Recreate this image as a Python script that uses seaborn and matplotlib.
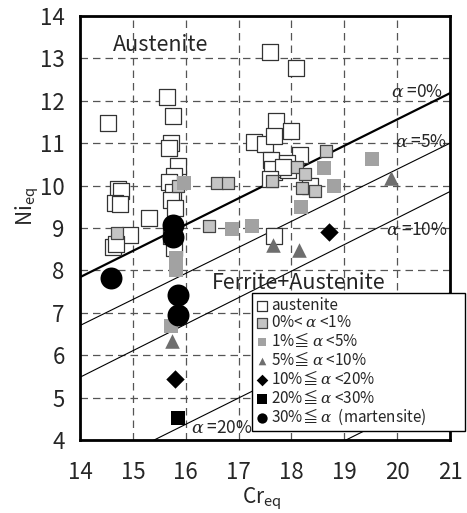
import matplotlib
matplotlib.use("Agg")
import matplotlib.pyplot as plt
import pandas as pd
import seaborn as sns

# ---- measured compositions (Cr equivalent, Ni equivalent) ----
aus_cr = [14.53, 15.64, 15.76, 15.72, 15.68, 15.85, 15.78, 15.68, 15.76, 15.73,
          15.80, 15.72, 15.78, 14.72, 14.78, 14.66, 14.75, 14.95, 14.62, 14.68,
          15.30, 17.60, 18.08, 17.30, 17.50, 17.70, 17.99, 17.67, 18.16, 17.61,
          17.91, 17.67, 17.93, 17.63, 17.85, 18.35, 17.60, 17.67]
aus_ni = [11.47, 12.08, 11.64, 11.00, 10.89, 10.46, 10.23, 10.09, 9.85, 9.66,
          9.47, 8.80, 8.53, 9.92, 9.88, 9.59, 9.56, 8.83, 8.55, 8.62,
          9.24, 13.15, 12.77, 11.03, 10.97, 11.52, 11.29, 11.17, 10.72, 10.60,
          10.53, 10.32, 10.37, 10.39, 10.45, 10.00, 10.15, 8.81]

f01_cr = [15.85, 14.70, 16.44, 16.59, 16.80, 17.63, 18.10, 18.25, 18.20, 18.44, 18.65]
f01_ni = [10.00, 8.88, 9.05, 10.05, 10.05, 10.10, 10.44, 10.27, 9.94, 9.87, 10.82]

f15_cr = [15.97, 15.81, 15.81, 15.72, 16.87, 17.25, 18.61, 18.80, 18.18, 19.52]
f15_ni = [10.06, 8.29, 8.00, 6.70, 8.97, 9.05, 10.42, 9.99, 9.50, 10.62]

f510_cr = [15.74, 17.65, 18.14, 19.88]
f510_ni = [6.33, 8.60, 8.48, 10.18]

f1020_cr = [15.80, 18.71]
f1020_ni = [5.44, 8.90]

f2030_cr = [15.85]
f2030_ni = [4.52]

mart_cr = [14.59, 15.76, 15.76, 15.85, 15.85]
mart_ni = [7.82, 9.07, 8.79, 7.42, 6.95]

phase_labels = [
    "austenite",
    "0%< $\\alpha$ <1%",
    "1%≦ $\\alpha$ <5%",
    "5%≦ $\\alpha$ <10%",
    "10%≦ $\\alpha$ <20%",
    "20%≦ $\\alpha$ <30%",
    "30%≦ $\\alpha$  (martensite)",
]

# iso-ferrite boundary lines, Ni_eq at Cr_eq = 14 and Cr_eq = 21
bound_cr = [14, 21]
bound_ni_left = [7.84, 6.70, 5.48, 3.13, 0.88]
bound_ni_right = [12.18, 11.00, 9.86, 7.47, 5.22]
bound_width = [1.6, 0.8, 0.8, 0.8, 0.8]
bound_text = ["$\\alpha$ =0%", "$\\alpha$ =5%", "$\\alpha$ =10%", "$\\alpha$ =20%"]
bound_text_cr = [20.37, 20.46, 20.37, 16.68]
bound_text_ni = [12.20, 11.03, 8.95, 4.28]

x_ticks = [14, 15, 16, 17, 18, 19, 20, 21]
y_ticks = [4, 5, 6, 7, 8, 9, 10, 11, 12, 13, 14]

# ---- assemble a long table ----
groups = [(aus_cr, aus_ni), (f01_cr, f01_ni), (f15_cr, f15_ni), (f510_cr, f510_ni),
          (f1020_cr, f1020_ni), (f2030_cr, f2030_ni), (mart_cr, mart_ni)]
rows = []
for lab, (cr, ni) in zip(phase_labels, groups):
    for c, n in zip(cr, ni):
        rows.append({"Cr": c, "Ni": n, "phase": lab})
df = pd.DataFrame(rows)

# marker, face, edge, edge width, plot size, legend size
styles = {
    phase_labels[0]: ("s", "white", "#333333", 0.9, 118, 55),
    phase_labels[1]: ("s", "#c4c4c4", "#444444", 0.9, 72, 55),
    phase_labels[2]: ("s", "#a2a2a2", "#a2a2a2", 0.0, 88, 30),
    phase_labels[3]: ("^", "#6e6e6e", "#6e6e6e", 0.0, 110, 30),
    phase_labels[4]: ("D", "black", "black", 0.0, 88, 35),
    phase_labels[5]: ("s", "black", "black", 0.0, 105, 50),
    phase_labels[6]: ("o", "black", "black", 0.0, 250, 55),
}

sns.set_style("white")
plt.rcParams["font.family"] = ["Noto Sans CJK JP", "DejaVu Sans"]
plt.rcParams["mathtext.fontset"] = "dejavuserif"

fig = plt.figure(figsize=(4.67, 5.13), dpi=100)
ax = fig.add_axes([0.1713, 0.1423, 0.7923, 0.8265])

for lab in phase_labels:
    mk, fc, ec, lw, sz, _ = styles[lab]
    sub = df[df["phase"] == lab]
    sns.scatterplot(data=sub, x="Cr", y="Ni", ax=ax, marker=mk, color=fc,
                    edgecolor=ec, linewidth=lw, s=sz, label=lab, zorder=3)

for nl, nr, w in zip(bound_ni_left, bound_ni_right, bound_width):
    ax.plot(bound_cr, [nl, nr], color="black", lw=w, zorder=2)

for t, c, n in zip(bound_text, bound_text_cr, bound_text_ni):
    ax.text(c, n, t, ha="center", va="center", fontsize=12.5, zorder=4)

ax.text(14.62, 13.32, "Austenite", ha="left", va="center", fontsize=15.5, zorder=4)
ax.text(16.50, 7.70, "Ferrite+Austenite", ha="left", va="center", fontsize=15.5, zorder=4)

ax.set_xlim(14, 21)
ax.set_ylim(4, 14)
ax.set_xticks(x_ticks)
ax.set_yticks(y_ticks)
ax.tick_params(axis="both", length=0, labelsize=16)
ax.tick_params(axis="x", pad=15)
ax.tick_params(axis="y", pad=11)
ax.grid(True, color="#555555", linestyle=(0, (6, 4)), linewidth=0.9)
ax.set_axisbelow(True)
for sp in ax.spines.values():
    sp.set_color("black")
    sp.set_linewidth(2.0)

ax.set_xlabel("$\\mathregular{Cr_{eq}}$", fontsize=15, va="center")
ax.set_ylabel("$\\mathregular{Ni_{eq}}$", fontsize=15, va="center")
ax.xaxis.set_label_coords(0.49, -0.138)
ax.yaxis.set_label_coords(-0.143, 0.55)

leg = ax.legend(loc="upper left", bbox_to_anchor=(0.465, 0.04, 0.575, 0.307),
                mode="expand", borderaxespad=0,
                frameon=True, fancybox=False, edgecolor="black", framealpha=1,
                fontsize=11, labelspacing=0.0, handletextpad=0.2,
                handlelength=0.8, handleheight=0.6, borderpad=0.25)
leg.get_frame().set_linewidth(1.0)
leg.set_zorder(5)
for h, lab in zip(leg.legend_handles, phase_labels):
    h.set_sizes([styles[lab][5]])

fig.savefig("out.png", dpi=100)
